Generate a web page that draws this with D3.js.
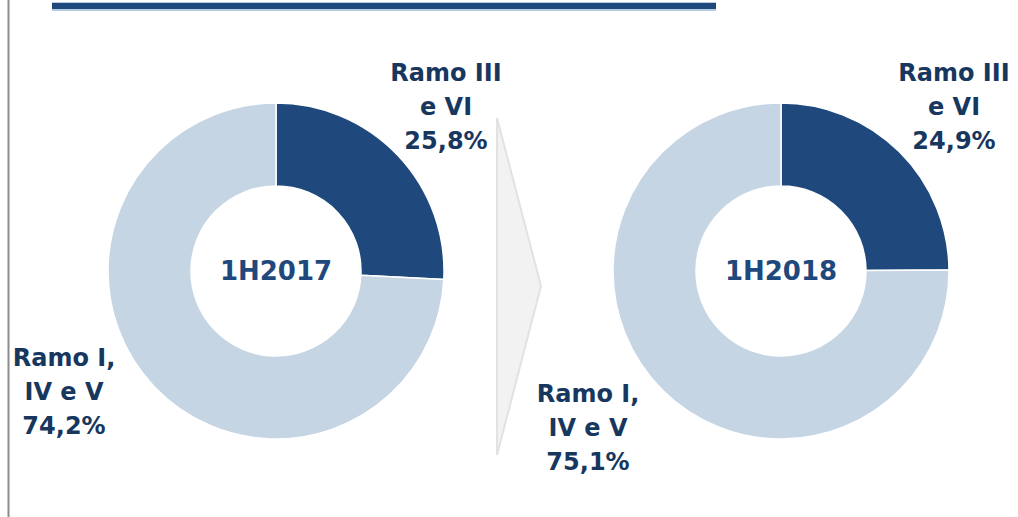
<!DOCTYPE html>
<html>
<head>
<meta charset="utf-8">
<script src="https://cdn.jsdelivr.net/npm/d3@7"></script>
<style>
  body { margin: 0; background: #fff; }
  svg text { font-family: "DejaVu Sans", sans-serif; font-weight: bold; }
</style>
</head>
<body>
<svg id="chart"></svg>
<script>
const periods = ['1H2017', '1H2018'];
const categories = ['Ramo III e VI', 'Ramo I, IV e V'];
const shares2017 = [25.8, 74.2];
const shares2018 = [24.9, 75.1];
const labelLines = [['Ramo III', 'e VI'], ['Ramo I,', 'IV e V']];

const width = 1018;
const height = 517;
const colors = ['#1f497d', '#c5d5e4'];
const textColor = '#17375e';

const svg = d3.select('#chart')
  .attr('width', width)
  .attr('height', height);

// page frame bits
svg.append('line')
  .attr('x1', 8.5).attr('x2', 8.5)
  .attr('y1', 0).attr('y2', height)
  .attr('stroke', '#8c8c8c').attr('stroke-width', 2);

svg.append('rect')
  .attr('x', 52).attr('y', 2)
  .attr('width', 664).attr('height', 9)
  .attr('fill', '#b9cbe0');
svg.append('rect')
  .attr('x', 52).attr('y', 3)
  .attr('width', 664).attr('height', 6)
  .attr('fill', '#1f497d');

// arrow between the two donuts
svg.append('path')
  .attr('d', 'M497,118 L541,286 L497,455 Z')
  .attr('fill', '#f2f2f2')
  .attr('stroke', '#e2e2e2')
  .attr('stroke-width', 2);

const pie = d3.pie().sort(null).value((d) => d);
const arc = d3.arc().innerRadius(85).outerRadius(168);

const donuts = [
  { period: periods[0], values: shares2017, cx: 276, cy: 271,
    labels: [{ x: 446, y: 72 }, { x: 64, y: 357 }] },
  { period: periods[1], values: shares2018, cx: 781, cy: 271,
    labels: [{ x: 954, y: 72 }, { x: 588, y: 393 }] }
];

donuts.forEach((dn) => {
  const g = svg.append('g')
    .attr('transform', `translate(${dn.cx}, ${dn.cy})`);

  g.selectAll('path')
    .data(pie(dn.values))
    .enter()
    .append('path')
    .attr('d', arc)
    .attr('fill', (d, i) => colors[i])
    .attr('stroke', '#fff')
    .attr('stroke-width', 1.5);

  g.append('text')
    .attr('text-anchor', 'middle')
    .attr('dy', '0.36em')
    .attr('font-size', 26)
    .attr('fill', '#1f497d')
    .text(dn.period);

  dn.values.forEach((v, i) => {
    const lines = labelLines[i].concat([v.toFixed(1).replace('.', ',') + '%']);
    const t = svg.append('text')
      .attr('text-anchor', 'middle')
      .attr('font-size', 24)
      .attr('fill', textColor);
    lines.forEach((ln, j) => {
      t.append('tspan')
        .attr('x', dn.labels[i].x)
        .attr('y', dn.labels[i].y + j * 34 + 9)
        .text(ln);
    });
  });
});
</script>
</body>
</html>
